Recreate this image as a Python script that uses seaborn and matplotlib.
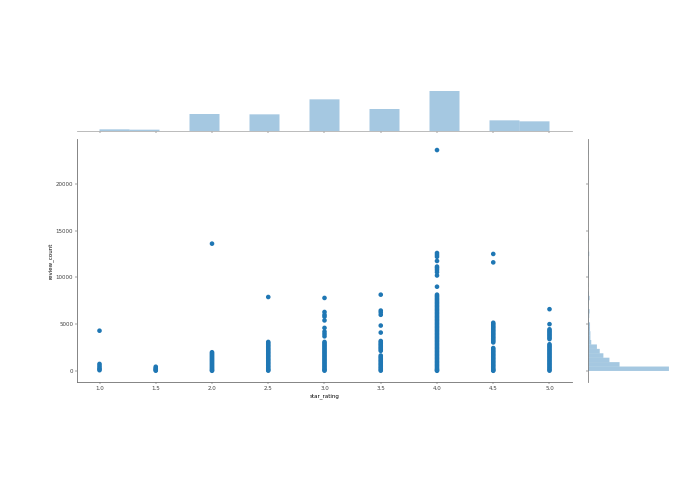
import matplotlib
matplotlib.use("Agg")
import matplotlib.pyplot as plt
import seaborn as sns
import pandas as pd

# ---------------- data ----------------
# scatter: visible review counts per star rating
reviews_1_0 = [4300, 750, 550, 350, 200, 80]
reviews_1_5 = [450, 300, 200, 100, 30]
reviews_2_0 = [13600, 2000, 1880, 1760, 1640, 1520, 1400, 1280, 1160, 1040, 920,
               800, 680, 560, 440, 320, 200, 80, 20]
reviews_2_5 = [7900, 3100, 2950, 2800, 2650, 2500, 2350, 2200, 2050, 1900, 1750,
               1600, 1450, 1300, 1150, 1000, 850, 700, 550, 400, 250, 120, 30]
reviews_3_0 = [7800, 6300, 6000, 5800, 5400, 4600, 4200, 3950, 3700, 3100, 2950,
               2800, 2650, 2500, 2350, 2200, 2050, 1900, 1750, 1600, 1450, 1300,
               1150, 1000, 850, 700, 550, 400, 250, 120, 30]
reviews_3_5 = [8150, 6450, 6250, 6000, 4850, 4100, 3200, 3050, 2900, 2750, 2600,
               2450, 2300, 2150, 1650, 1500, 1350, 1200, 1050, 900, 750, 600, 450,
               300, 150, 30]
reviews_4_0 = [23600, 12600, 12400, 12200, 11750, 11150, 11000, 10800, 10550,
               10200, 9000, 8150, 8000, 7850, 7700, 7550, 7400, 7250, 7100, 6950,
               6800, 6650, 6500, 6350, 6200, 6050, 5900, 5750, 5600, 5450, 5300,
               5150, 5000, 4850, 4700, 4550, 4400, 4250, 4100, 3950, 3800, 3650,
               3500, 3350, 3200, 3050, 2900, 2750, 2600, 2450, 2300, 2150, 2000,
               1850, 1700, 1550, 1400, 1250, 1100, 950, 800, 650, 500, 350, 200,
               80, 20]
reviews_4_5 = [12500, 11600, 5150, 5000, 4850, 4700, 4550, 4400, 4250, 4100, 3950,
               3800, 3650, 3500, 3350, 3200, 3050, 2450, 2300, 2150, 2000, 1850,
               1700, 1550, 1400, 1250, 1100, 950, 800, 650, 500, 350, 200, 80, 20]
reviews_5_0 = [6600, 5000, 4450, 4300, 4150, 4000, 3850, 3700, 3550, 3400, 2850,
               2700, 2550, 2400, 2250, 2100, 1950, 1800, 1650, 1500, 1350, 1200,
               1050, 900, 750, 600, 450, 300, 150, 30]

scatter_ratings = [1.0, 1.5, 2.0, 2.5, 3.0, 3.5, 4.0, 4.5, 5.0]
scatter_reviews = [reviews_1_0, reviews_1_5, reviews_2_0, reviews_2_5, reviews_3_0,
                   reviews_3_5, reviews_4_0, reviews_4_5, reviews_5_0]

# top marginal histogram: number of businesses per star rating
star_levels = [1.0, 1.5, 2.0, 2.5, 3.0, 3.5, 4.0, 4.5, 5.0]
star_counts = [5, 4, 51, 50, 95, 66, 120, 32, 29]

# right marginal histogram: number of businesses per review-count bin
review_bin_values = [236, 708, 1180, 1652, 2124, 2596, 3068, 3540, 4012, 4484,
                     4956, 5428, 5900, 6372, 6844, 7316, 7788, 8260, 9204, 10148,
                     10620, 11092, 11564, 12036, 12508, 13688, 23600]
review_bin_counts = [200, 78, 53, 38, 29, 22, 8, 6, 6, 5,
                     5, 2, 3, 4, 1, 2, 4, 2, 1, 2,
                     2, 2, 1, 1, 3, 1, 1]

# ---------------- build frames ----------------
rows = []
for r, vals in zip(scatter_ratings, scatter_reviews):
    for v in vals:
        rows.append((r, v))
df = pd.DataFrame(rows, columns=["star_rating", "review_count"])
df_x = pd.DataFrame({"star_rating": star_levels, "n": star_counts})
df_y = pd.DataFrame({"review_count": review_bin_values, "n": review_bin_counts})

# ---------------- styling ----------------
plt.rcParams.update({
    "font.family": ["DejaVu Sans"],
    "font.size": 4.0,
    "axes.labelsize": 4.0,
    "xtick.labelsize": 4.0,
    "ytick.labelsize": 4.0,
    "xtick.major.size": 1.4,
    "ytick.major.size": 1.4,
    "xtick.major.width": 0.35,
    "ytick.major.width": 0.35,
    "xtick.major.pad": 1.3,
    "ytick.major.pad": 1.3,
    "axes.labelpad": 1.5,
    "axes.linewidth": 0.6,
    "axes.edgecolor": "#707070",
    "xtick.color": "#404040",
    "ytick.color": "#404040",
})

blue = "#1f77b4"
g = sns.JointGrid(data=df, x="star_rating", y="review_count", height=6, ratio=5, space=0.2)
fig = g.figure
fig.set_size_inches(6.95, 4.94)
fig.set_dpi(100)

sns.scatterplot(data=df, x="star_rating", y="review_count", ax=g.ax_joint,
                color=blue, s=11, linewidth=0, edgecolor="none")
sns.histplot(data=df_x, x="star_rating", weights="n", bins=15, binrange=(1.0, 5.0),
             ax=g.ax_marg_x, color=blue, alpha=0.4, linewidth=0, edgecolor="none")
sns.histplot(data=df_y, y="review_count", weights="n", bins=50, binrange=(0, 23600),
             ax=g.ax_marg_y, color=blue, alpha=0.4, linewidth=0, edgecolor="none")

for ax in (g.ax_marg_x, g.ax_marg_y):
    for p in ax.patches:
        p.set_snap(False)
    ax.set_xlabel("")
    ax.set_ylabel("")
g.ax_joint.set_xlabel("star_rating")
g.ax_joint.set_ylabel("review_count")
g.ax_marg_x.spines["bottom"].set_color("#b0b0b0")
g.ax_marg_y.spines["left"].set_color("#808080")

W, H = 695.0, 494.0
g.ax_joint.set_position([77 / W, (H - 382) / H, 495 / W, 243 / H])
g.ax_marg_x.set_position([77 / W, (H - 131) / H, 495 / W, 42 / H])
g.ax_marg_y.set_position([588 / W, (H - 382) / H, 85 / W, 243 / H])

fig.savefig("out.png", dpi=100)
